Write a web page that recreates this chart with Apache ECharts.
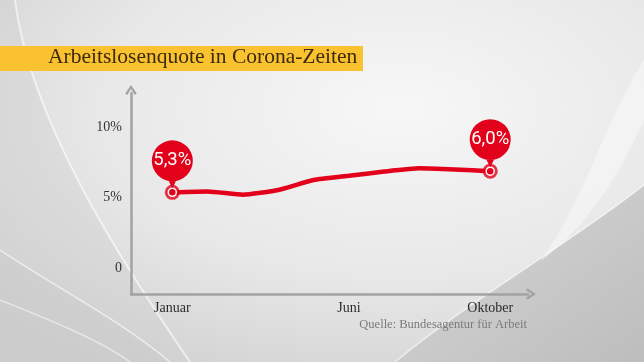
<!DOCTYPE html>
<html><head><meta charset="utf-8">
<script src="https://cdn.jsdelivr.net/npm/echarts@6/dist/echarts.min.js"></script>
<style>html,body{margin:0;padding:0;}
#wrap{position:relative;width:644px;height:362px;overflow:hidden;}
#bg{position:absolute;left:0;top:0;}
#c{position:absolute;left:0;top:0;width:644px;height:362px;}</style>
</head><body><div id="wrap">
<svg id="bg" width="644" height="362" viewBox="0 0 644 362">
  <defs>
    <radialGradient id="g0" cx="0.62" cy="0.3" r="0.85">
      <stop offset="0" stop-color="#f7f7f7"/><stop offset="0.55" stop-color="#e8e8e8"/><stop offset="1" stop-color="#cfcfcf"/>
    </radialGradient>
    <linearGradient id="g1" x1="0" y1="0" x2="1" y2="1">
      <stop offset="0" stop-color="#d8d8d8"/><stop offset="1" stop-color="#bdbdbd"/>
    </linearGradient>
  </defs>
  <rect width="644" height="362" fill="url(#g0)"/>
  <path d="M0,0 L15,0 C30,120 120,260 190,362 L170,362 C120,320 60,290 0,250 Z" fill="rgba(205,205,205,0.35)"/>
  <path d="M0,250 C60,290 120,320 170,362 L0,362 Z" fill="rgba(200,200,200,0.45)"/>
  <path d="M0,250 C60,290 120,320 170,362" fill="none" stroke="rgba(255,255,255,0.6)" stroke-width="1.5"/>
  <path d="M0,300 C50,320 100,340 130,362" fill="none" stroke="rgba(255,255,255,0.5)" stroke-width="1.5"/>
  <path d="M15,0 C30,120 120,260 190,362" fill="none" stroke="rgba(255,255,255,0.6)" stroke-width="2"/>
  <path d="M395,362 C470,300 560,250 644,185 L644,362 Z" fill="url(#g1)"/>
  <path d="M395,362 C470,300 560,250 644,185" fill="none" stroke="rgba(255,255,255,0.6)" stroke-width="1.5"/>
  <path d="M644,60 C600,130 590,190 540,262 C600,215 625,160 644,120 Z" fill="rgba(255,255,255,0.4)"/>
</svg>
<div id="c"></div></div>
<script>
// Data
const months = ['Januar','Februar','März','April','Mai','Juni','Juli','August','September','Oktober'];
const rate = [5.38, 5.44, 5.22, 5.55, 6.25, 6.55, 6.85, 7.08, 7.0, 6.88];
const calloutLabels = ['5,3%', '6,0%'];
const yTicks = [0, 5, 10];
const xLabelIdx = [0, 5, 9];
const title = 'Arbeitslosenquote in Corona-Zeiten';
const source = 'Quelle: Bundesagentur für Arbeit';

const RED = '#e2001a';
const pts = rate.map((v, i) => [i, v]);
const last = rate.length - 1;

const chart = echarts.init(document.getElementById('c'), null, {renderer: 'canvas'});
const chevron = 'path://M0,9 L6,0 L12,9 L10,10.5 L6,4 L2,10.5 Z';
const bubble = 'path://M20,0 A20,20 0 1,1 19.99,0 Z M25,37 L20,47 L15,37 Z';

chart.setOption({
  backgroundColor: 'transparent',
  animation: false,
  graphic: [
    {type: 'rect', z: 5, silent: true, shape: {x: 0, y: 46, width: 363, height: 25},
      style: {fill: '#f9c22e'}},
    {type: 'text', z: 6, silent: true, left: 48, top: 46.5,
      style: {text: title, font: '21.5px "Liberation Serif", serif', fill: '#3b2a0e'}},
    {type: 'text', z: 6, silent: true, right: 117, top: 318,
      style: {text: source, font: '12.5px "Liberation Serif", serif', fill: '#7b7b7b'}}
  ],
  grid: {left: 131, right: 116, top: 93, bottom: 68, containLabel: false},
  xAxis: {
    type: 'value', min: -1.17, max: 10.07,
    splitLine: {show: false},
    axisTick: {show: false},
    axisLine: {show: true, onZero: false, lineStyle: {color: '#a2a2a2', width: 2.5},
      symbol: ['none', chevron], symbolSize: [12, 10], symbolOffset: [0, 3]},
    axisLabel: {customValues: xLabelIdx, formatter: v => months[Math.round(v)],
      color: '#2b2b2b', fontFamily: '"Liberation Serif", serif', fontSize: 14, margin: 7}
  },
  yAxis: {
    type: 'value', min: -1.8, max: 12.4,
    splitLine: {show: false},
    axisTick: {show: false},
    axisLine: {show: true, onZero: false, lineStyle: {color: '#a2a2a2', width: 2.5},
      symbol: ['none', chevron], symbolSize: [12, 10], symbolOffset: [0, 3]},
    axisLabel: {customValues: yTicks, formatter: v => v === 0 ? '0' : v + '%',
      color: '#333', fontFamily: '"Liberation Serif", serif', fontSize: 14, margin: 9}
  },
  series: [
    {type: 'scatter', z: 3, data: [pts[0], pts[last]], symbol: 'circle', symbolSize: 15,
      itemStyle: {color: RED}, silent: true},
    {type: 'line', z: 4, data: pts, smooth: 0.15,
      lineStyle: {color: RED, width: 4.5},
      symbol: (val, p) => (p.dataIndex === 0 || p.dataIndex === last) ? 'circle' : 'none',
      symbolSize: 8,
      itemStyle: {color: RED, borderColor: '#fff', borderWidth: 1.5},
      showAllSymbol: true,
      markPoint: {
        symbol: bubble, symbolSize: [41, 48], symbolOffset: [0, -28],
        itemStyle: {color: RED},
        label: {show: true, formatter: '{b}', color: '#fff', fontFamily: 'Roboto, sans-serif',
          fontSize: 18.5, offset: [0, -3.5]},
        data: [
          {name: calloutLabels[0], coord: pts[0]},
          {name: calloutLabels[1], coord: pts[last]}
        ]
      }
    }
  ]
});
</script></body></html>
